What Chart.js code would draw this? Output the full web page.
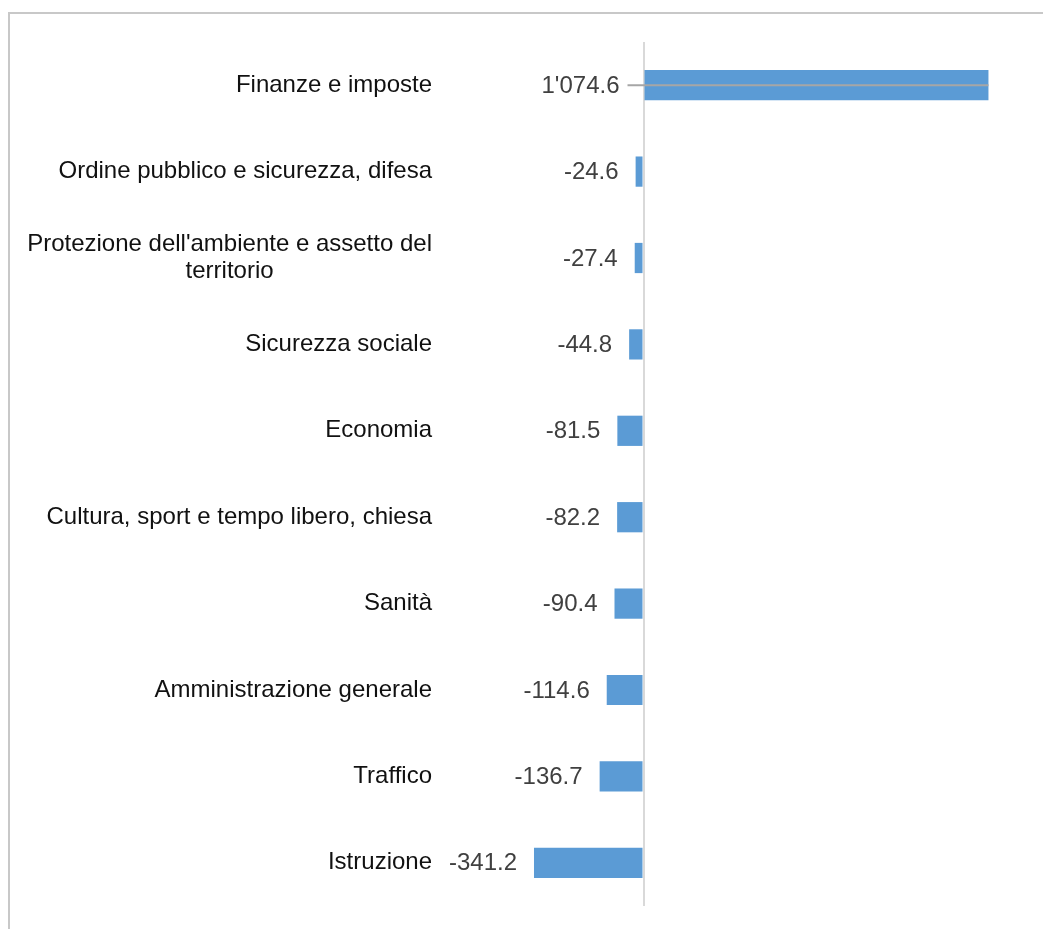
<!DOCTYPE html>
<html lang="it">
<head>
  <meta charset="UTF-8">
  <title>Saldo per funzione</title>
  <script src="https://cdn.jsdelivr.net/npm/chart.js"></script>
  <style>
    body { margin: 0; overflow: hidden; background: #fff; font-family: "Liberation Sans", Arial, sans-serif; }
    .cornice { position: absolute; left: 8px; top: 12px; width: 2000px; height: 2000px;
               border-left: 2px solid #c8c8c8; border-top: 2px solid #c8c8c8; }
    #grafico { position: absolute; left: 0; top: 0; }
  </style>
</head>
<body>

<div class="cornice"></div>
<canvas id="grafico" width="1043" height="929"></canvas>

<script>
  const categorie = [
    'Finanze e imposte',
    'Ordine pubblico e sicurezza, difesa',
    ["Protezione dell'ambiente e assetto del", 'territorio'],
    'Sicurezza sociale',
    'Economia',
    'Cultura, sport e tempo libero, chiesa',
    'Sanità',
    'Amministrazione generale',
    'Traffico',
    'Istruzione'
  ];
  const valori = [1074.6, -24.6, -27.4, -44.8, -81.5, -82.2, -90.4, -114.6, -136.7, -341.2];

  const FONT = '24px "Liberation Sans", Arial, sans-serif';

  function formatta(v) {
    const s = Math.abs(v).toFixed(1);
    const [intera, dec] = s.split('.');
    const conSep = intera.replace(/\B(?=(\d{3})+(?!\d))/g, "'");
    return (v < 0 ? '-' : '') + conSep + '.' + dec;
  }

  // nomi delle categorie: blocco allineato a destra, righe centrate tra loro
  const nomi = {
    id: 'nomi',
    afterDraw(chart) {
      const ctx = chart.ctx;
      const y = chart.scales.y;
      const destra = chart.chartArea.left - 8;
      ctx.save();
      ctx.font = FONT;
      ctx.fillStyle = '#111';
      ctx.textAlign = 'center';
      ctx.textBaseline = 'middle';
      categorie.forEach((c, i) => {
        const righe = Array.isArray(c) ? c : [c];
        const larg = Math.max(...righe.map(r => ctx.measureText(r).width));
        const cx = destra - larg / 2;
        const passo = 27;
        const y0 = y.getPixelForTick(i) - (righe.length - 1) * passo / 2;
        righe.forEach((r, j) => ctx.fillText(r, cx, y0 + j * passo));
      });
      ctx.restore();
    }
  };

  // etichette dei valori a sinistra della barra, con linea guida per i positivi
  const etichette = {
    id: 'etichette',
    afterDatasetsDraw(chart) {
      const ctx = chart.ctx;
      const x = chart.scales.x;
      const meta = chart.getDatasetMeta(0);
      ctx.save();
      ctx.font = FONT;
      ctx.textAlign = 'right';
      ctx.textBaseline = 'middle';
      meta.data.forEach((bar, i) => {
        const v = valori[i];
        const x0 = x.getPixelForValue(Math.min(0, v));
        const xt = x0 - (v > 0 ? 24 : 17);
        if (v > 0) {
          ctx.strokeStyle = '#a6a6a6';
          ctx.lineWidth = 2;
          ctx.beginPath();
          ctx.moveTo(xt + 8, bar.y);
          ctx.lineTo(x.getPixelForValue(v), bar.y);
          ctx.stroke();
        }
        ctx.fillStyle = '#404040';
        ctx.fillText(formatta(v), xt, bar.y + 1);
      });
      ctx.restore();
    }
  };

  new Chart(document.getElementById('grafico'), {
    type: 'bar',
    data: {
      labels: categorie,
      datasets: [{
        data: valori,
        backgroundColor: '#5b9bd5',
        barPercentage: 0.35,
        categoryPercentage: 1
      }]
    },
    options: {
      indexAxis: 'y',
      responsive: false,
      animation: false,
      layout: { padding: { top: 42, bottom: 23, left: 0, right: 13 } },
      plugins: { legend: { display: false }, tooltip: { enabled: false } },
      scales: {
        x: {
          min: -634,
          max: 1204,
          afterBuildTicks: (s) => { s.ticks = [{ value: 0 }]; },
          ticks: { display: false },
          border: { display: false },
          grid: { color: '#d9d9d9', lineWidth: 2, drawTicks: false }
        },
        y: {
          afterFit: (s) => { s.width = 440; },
          border: { display: false },
          grid: { display: false, drawTicks: false },
          ticks: { display: false }
        }
      }
    },
    plugins: [etichette, nomi]
  });
</script>

</body>
</html>
